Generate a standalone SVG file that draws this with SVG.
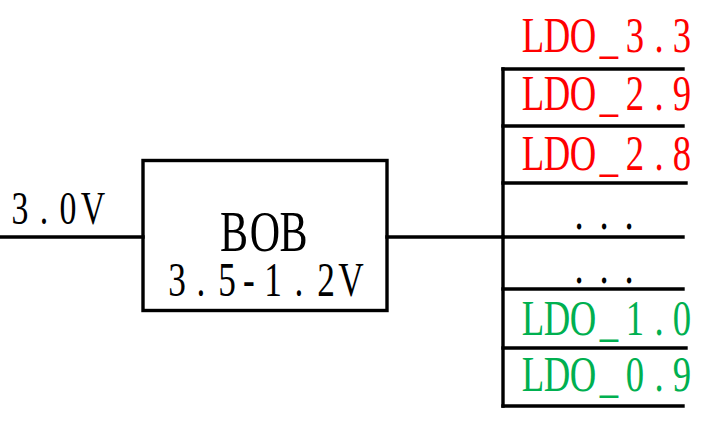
<svg xmlns="http://www.w3.org/2000/svg" width="724" height="423" viewBox="0 0 724 423">
<style>
.ln{stroke:#000;stroke-width:3.4;fill:none;stroke-linecap:square}
.t{font-family:"Liberation Serif","Times New Roman",serif;text-anchor:middle}
.red{fill:#FF0000}
.grn{fill:#00B050}
.blk{fill:#000}
</style>
<g id="connectors">
<line class="ln" x1="0" y1="237" x2="143" y2="237"/>
<line class="ln" x1="387" y1="237" x2="503" y2="237"/>
<line class="ln" x1="503" y1="69" x2="503" y2="406"/>
<line class="ln" x1="503" y1="69" x2="683" y2="69"/>
<line class="ln" x1="503" y1="126" x2="683" y2="126"/>
<line class="ln" x1="503" y1="183" x2="686" y2="183"/>
<line class="ln" x1="503" y1="237" x2="683" y2="237"/>
<line class="ln" x1="503" y1="289" x2="683" y2="289"/>
<line class="ln" x1="503" y1="348" x2="686" y2="348"/>
<line class="ln" x1="503" y1="406" x2="683" y2="406"/>
</g>
<g id="input">
<text class="t blk" font-size="47" transform="scale(0.72,1)" x="27.8 61.1 94.4 129.2" y="224">3.0V</text>
</g>
<g id="bob">
<rect class="ln" x="143" y="160.5" width="244" height="150"/>
<text class="t blk" font-size="56" transform="scale(0.75,1)" x="312 353.3 391.3" y="251.5">BOB</text>
<text class="t blk" font-size="49" transform="scale(0.72,1)" x="245.8 279.2 315.3 345.8 379.2 415.3 452.8 487.5" y="296.5">3.5-1.2V</text>
</g>
<g id="ldo33">
<text class="t red" font-size="51" transform="scale(0.72,1)" x="740.3 773.6 809.7 845.8 881.9 915.3 947.2" y="52">LDO_3.3</text>
</g>
<g id="ldo29">
<text class="t red" font-size="51" transform="scale(0.72,1)" x="740.3 773.6 809.7 845.8 881.9 915.3 947.2" y="110">LDO_2.9</text>
</g>
<g id="ldo28">
<text class="t red" font-size="51" transform="scale(0.72,1)" x="740.3 773.6 809.7 845.8 881.9 915.3 947.2" y="170">LDO_2.8</text>
</g>
<g id="dots1">
<text class="t blk" font-size="51" transform="scale(0.72,1)" x="804.2 838.9 873.6" y="229">...</text>
</g>
<g id="dots2">
<text class="t blk" font-size="51" transform="scale(0.72,1)" x="804.2 838.9 873.6" y="283.5">...</text>
</g>
<g id="ldo10">
<text class="t grn" font-size="51" transform="scale(0.72,1)" x="740.3 773.6 809.7 845.8 881.9 915.3 947.2" y="335">LDO_1.0</text>
</g>
<g id="ldo09">
<text class="t grn" font-size="51" transform="scale(0.72,1)" x="740.3 773.6 809.7 845.8 881.9 915.3 947.2" y="391.5">LDO_0.9</text>
</g>
</svg>
